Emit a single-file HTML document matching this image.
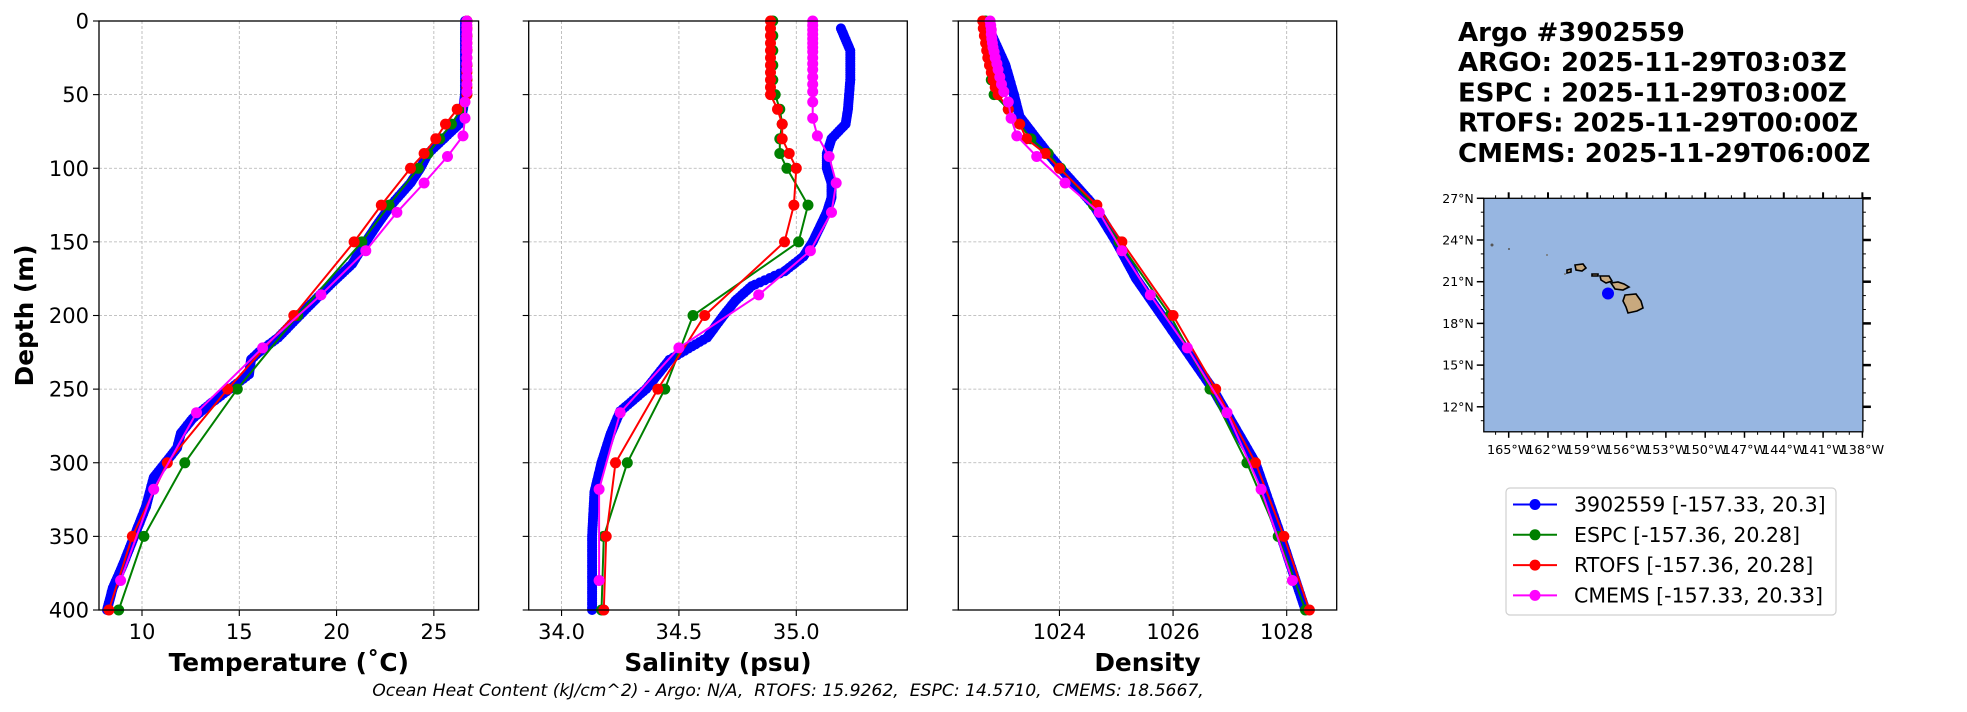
<!DOCTYPE html>
<html><head><meta charset="utf-8"><style>
html,body{margin:0;padding:0;background:#fff;}
svg{display:block;}
text{font-family:"DejaVu Sans","Liberation Sans",sans-serif;}
</style></head><body>
<svg id="s" width="1967" height="712" xmlns="http://www.w3.org/2000/svg"></svg>
<script>
const S=document.getElementById('s');
let h='';
const Y0=21,Y1=610;
const ys=d=>Y0+(Y1-Y0)*d/400;
const panels=[
 {x0:99,x1:478.6,v0:7.79,v1:27.3,ticks:[10,15,20,25],lab:['10','15','20','25'],title:'Temperature (˚C)'},
 {x0:528.7,x1:907.3,v0:33.86,v1:35.473,ticks:[34,34.5,35],lab:['34.0','34.5','35.0'],title:'Salinity (psu)'},
 {x0:958.3,x1:1336.7,v0:1022.22,v1:1028.88,ticks:[1024,1026,1028],lab:['1024','1026','1028'],title:'Density'}
];
const data=[
 {
  b:[[0,26.6],[50,26.6],[60,26.5],[70,26.3],[80,25.5],[90,24.7],[100,24.3],[110,23.8],[125,22.8],[140,22.0],[150,21.5],[165,20.8],[180,19.6],[200,18.1],[215,17.0],[225,16.0],[230,15.6],[240,15.5],[250,14.5],[260,13.5],[270,12.6],[280,12.0],[290,11.8],[300,11.2],[310,10.6],[330,10.2],[350,9.6],[370,9.0],[385,8.5],[400,8.2]],
  g:[[0,26.7],[10,26.7],[20,26.7],[30,26.7],[40,26.7],[50,26.7],[60,26.4],[70,25.9],[80,25.3],[90,24.7],[100,24.2],[125,22.7],[150,21.3],[200,18.0],[250,14.9],[300,12.2],[350,10.1],[400,8.8]],
  r:[[0,26.7],[5,26.7],[10,26.7],[15,26.7],[20,26.7],[25,26.7],[30,26.7],[35,26.7],[40,26.7],[45,26.7],[50,26.7],[60,26.2],[70,25.6],[80,25.1],[90,24.5],[100,23.8],[125,22.3],[150,20.9],[200,17.8],[250,14.4],[300,11.3],[350,9.5],[400,8.3]],
  m:[[0,26.7],[3,26.7],[6,26.7],[9,26.7],[12,26.7],[15,26.7],[18,26.7],[21,26.7],[25,26.7],[29,26.7],[33,26.7],[38,26.7],[43,26.7],[48,26.7],[55,26.6],[66,26.6],[78,26.5],[92,25.7],[110,24.5],[130,23.1],[156,21.5],[186,19.2],[222,16.2],[266,12.8],[318,10.6],[380,8.9]]
 },
 {
  b:[[5,35.19],[20,35.23],[40,35.23],[60,35.22],[70,35.21],[80,35.15],[90,35.13],[100,35.13],[110,35.15],[120,35.15],[130,35.13],[140,35.10],[150,35.07],[160,35.03],[170,34.95],[180,34.81],[190,34.74],[200,34.69],[215,34.62],[230,34.46],[250,34.36],[265,34.25],[280,34.21],[300,34.17],[320,34.14],[350,34.13],[400,34.13]],
  g:[[0,34.9],[10,34.9],[20,34.9],[30,34.9],[40,34.9],[50,34.91],[60,34.93],[70,34.94],[80,34.93],[90,34.93],[100,34.96],[125,35.05],[150,35.01],[200,34.56],[250,34.44],[300,34.28],[350,34.18],[400,34.17]],
  r:[[0,34.89],[5,34.89],[10,34.89],[15,34.89],[20,34.89],[25,34.89],[30,34.89],[35,34.89],[40,34.89],[45,34.89],[50,34.89],[60,34.92],[70,34.94],[80,34.94],[90,34.97],[100,35.0],[125,34.99],[150,34.95],[200,34.61],[250,34.41],[300,34.23],[350,34.19],[400,34.18]],
  m:[[0,35.07],[3,35.07],[6,35.07],[9,35.07],[12,35.07],[15,35.07],[18,35.07],[21,35.07],[25,35.07],[29,35.07],[33,35.07],[38,35.07],[43,35.07],[48,35.07],[55,35.07],[66,35.07],[78,35.09],[92,35.14],[110,35.17],[130,35.15],[156,35.06],[186,34.84],[222,34.50],[266,34.25],[318,34.16],[380,34.16]]
 },
 {
  b:[[0,1022.7],[30,1023.05],[50,1023.2],[65,1023.3],[75,1023.5],[90,1023.8],[100,1024.02],[125,1024.6],[150,1025.0],[175,1025.35],[200,1025.8],[250,1026.7],[300,1027.45],[350,1027.9],[400,1028.33]],
  g:[[0,1022.7],[10,1022.72],[20,1022.75],[30,1022.78],[40,1022.8],[50,1022.85],[60,1023.1],[70,1023.3],[80,1023.5],[90,1023.8],[100,1024.02],[125,1024.6],[150,1025.05],[200,1025.95],[250,1026.65],[300,1027.3],[350,1027.85],[400,1028.33]],
  r:[[0,1022.65],[5,1022.66],[10,1022.68],[15,1022.7],[20,1022.72],[25,1022.74],[30,1022.77],[35,1022.8],[40,1022.83],[45,1022.87],[50,1022.92],[60,1023.1],[70,1023.3],[80,1023.42],[90,1023.75],[100,1024.0],[125,1024.66],[150,1025.1],[200,1026.0],[250,1026.75],[300,1027.45],[350,1027.95],[400,1028.4]],
  m:[[0,1022.78],[3,1022.79],[6,1022.8],[9,1022.8],[12,1022.81],[15,1022.82],[18,1022.83],[21,1022.85],[25,1022.87],[29,1022.9],[33,1022.92],[38,1022.95],[43,1022.98],[48,1023.02],[55,1023.1],[66,1023.15],[78,1023.25],[92,1023.6],[110,1024.1],[130,1024.7],[156,1025.1],[186,1025.6],[222,1026.25],[266,1026.95],[318,1027.55],[380,1028.1]]
 }
];
const col={b:'#0000ff',g:'#008000',r:'#ff0000',m:'#ff00ff'};
function interp(arr,step){const o=[];for(let i=0;i<arr.length-1;i++){const[a,va]=arr[i],[b,vb]=arr[i+1];for(let d=a;d<b;d+=step)o.push([d,va+(vb-va)*(d-a)/(b-a)]);}o.push(arr[arr.length-1]);return o;}
panels.forEach((p,i)=>{
 const xs=v=>p.x0+(p.x1-p.x0)*(v-p.v0)/(p.v1-p.v0);
 h+=`<defs><clipPath id="c${i}"><rect x="${p.x0}" y="${Y0-8}" width="${p.x1-p.x0}" height="${Y1-Y0+16}"/></clipPath></defs>`;
 p.ticks.forEach(t=>{const x=xs(t);h+=`<line x1="${x}" y1="${Y0}" x2="${x}" y2="${Y1}" stroke="#b0b0b0" stroke-width="0.8" stroke-dasharray="3,2"/>`;});
 for(let d=50;d<400;d+=50){h+=`<line x1="${p.x0}" y1="${ys(d)}" x2="${p.x1}" y2="${ys(d)}" stroke="#b0b0b0" stroke-width="0.8" stroke-dasharray="3,2"/>`;}
 let g=`<g clip-path="url(#c${i})">`;
 ['b','g','r','m'].forEach(k=>{
  const arr=data[i][k];
  g+=`<polyline fill="none" stroke="${col[k]}" stroke-width="2" points="${arr.map(q=>xs(q[1]).toFixed(1)+','+ys(q[0]).toFixed(1)).join(' ')}"/>`;
  const pts=k==='b'?interp(arr,1.5):arr;
  pts.forEach(q=>{g+=`<circle cx="${xs(q[1]).toFixed(1)}" cy="${ys(q[0]).toFixed(1)}" r="${k==='b'?5:5.5}" fill="${col[k]}"/>`;});
 });
 h+=g+'</g>';
 h+=`<rect x="${p.x0}" y="${Y0}" width="${p.x1-p.x0}" height="${Y1-Y0}" fill="none" stroke="#000" stroke-width="1.3"/>`;
 p.ticks.forEach((t,j)=>{const x=xs(t);h+=`<line x1="${x}" y1="${Y1}" x2="${x}" y2="${Y1+6}" stroke="#000" stroke-width="1.1"/><text x="${x}" y="${Y1+29}" font-size="21" text-anchor="middle">${p.lab[j]}</text>`;});
 for(let d=0;d<=400;d+=50){h+=`<line x1="${p.x0-6}" y1="${ys(d)}" x2="${p.x0}" y2="${ys(d)}" stroke="#000" stroke-width="1.1"/>`;
  if(i==0)h+=`<text x="${p.x0-10}" y="${ys(d)+7.5}" font-size="21" text-anchor="end">${d}</text>`;}
 h+=`<text x="${(p.x0+p.x1)/2}" y="${Y1+61}" font-size="24.8" font-weight="bold" text-anchor="middle">${p.title}</text>`;
});
h+=`<text transform="translate(33,${(Y0+Y1)/2}) rotate(-90)" font-size="24.8" font-weight="bold" text-anchor="middle">Depth (m)</text>`;
h+=`<text x="788" y="696" font-size="17.2" font-style="italic" text-anchor="middle" xml:space="preserve" style="white-space:pre">Ocean Heat Content (kJ/cm^2) - Argo: N/A,  RTOFS: 15.9262,  ESPC: 14.5710,  CMEMS: 18.5667,</text>`;
['Argo #3902559','ARGO: 2025-11-29T03:03Z','ESPC : 2025-11-29T03:00Z','RTOFS: 2025-11-29T00:00Z','CMEMS: 2025-11-29T06:00Z'].forEach((t,j)=>{
 h+=`<text x="1458" y="${41+j*30.2}" font-size="26" font-weight="bold" xml:space="preserve" style="white-space:pre">${t}</text>`;});
const MX0=1483.8,MX1=1862.9,MY0=198.3,MY1=431.8;
const lx=l=>MX0+(l+166.9)*13.1, ly=a=>MY0+(27-a)*13.9;
h+=`<rect x="${MX0}" y="${MY0}" width="${MX1-MX0}" height="${MY1-MY0}" fill="#97b6e1"/>`;
const isl=[[1633,303,'M-8,-8 L3,-9 L8,-2 L10,5 L4,8 L-5,10 L-7,4 L-10,-2 Z'],[1620,286,'M-9,-3 L-2,-4 L4,-2 L9,1 L3,4 L-5,3 Z'],[1606,279,'M-6,-3 L3,-3 L6,2 L0,4 L-5,1 Z'],[1580,268,'M-5,-3 L3,-4 L6,0 L2,3 L-4,2 Z'],[1569,271,'M-2,-1 L2,-2 L2,1 L-2,2 Z'],[1595,275,'M-3,-1 L3,-1 L3,1 L-3,1 Z']];
isl.forEach(s=>{h+=`<path transform="translate(${s[0]},${s[1]})" d="${s[2]}" fill="#c8a97e" stroke="#000" stroke-width="1.6"/>`;});
h+=`<circle cx="1492" cy="245" r="1.5" fill="#555"/><circle cx="1509" cy="249" r="1" fill="#555"/><circle cx="1547" cy="255" r="1" fill="#777"/><circle cx="1565" cy="274" r="1" fill="#777"/>`;
h+=`<circle cx="1608" cy="293.5" r="6" fill="#0000ff"/>`;
h+=`<rect x="${MX0}" y="${MY0}" width="${MX1-MX0}" height="${MY1-MY0}" fill="none" stroke="#000" stroke-width="1.3"/>`;
[27,24,21,18,15,12].forEach(a=>{const y=ly(a);h+=`<line x1="${MX0-7}" y1="${y}" x2="${MX0}" y2="${y}" stroke="#000" stroke-width="1.5"/><line x1="${MX1}" y1="${y}" x2="${MX1+8}" y2="${y}" stroke="#000" stroke-width="2.5"/><text x="${MX0-10}" y="${y+4.5}" font-size="12.5" text-anchor="end">${a}°N</text>`;});
for(let a=11;a<=27;a++){const y=ly(a);h+=`<line x1="${MX0-3}" y1="${y}" x2="${MX0}" y2="${y}" stroke="#000"/><line x1="${MX1}" y1="${y}" x2="${MX1+3}" y2="${y}" stroke="#000"/>`;}
[165,162,159,156,153,150,147,144,141,138].forEach(l=>{const x=lx(-l);h+=`<line x1="${x}" y1="${MY1}" x2="${x}" y2="${MY1+6}" stroke="#000" stroke-width="1.5"/><line x1="${x}" y1="${MY0-6}" x2="${x}" y2="${MY0}" stroke="#000" stroke-width="2"/><text x="${x}" y="${MY1+22}" font-size="12.8" text-anchor="middle">${l}°W</text>`;});
for(let l=166;l>=138;l--){const x=lx(-l);h+=`<line x1="${x}" y1="${MY1}" x2="${x}" y2="${MY1+3}" stroke="#000"/><line x1="${x}" y1="${MY0-3}" x2="${x}" y2="${MY0}" stroke="#000"/>`;}
h+=`<rect x="1506" y="488" width="330" height="127" rx="4" fill="#fff" stroke="#d0d0d0" stroke-width="1.2"/>`;
[['b','3902559 [-157.33, 20.3]'],['g','ESPC [-157.36, 20.28]'],['r','RTOFS [-157.36, 20.28]'],['m','CMEMS [-157.33, 20.33]']].forEach((e,j)=>{
 const y=504.5+j*30.3;
 h+=`<line x1="1513" y1="${y}" x2="1557" y2="${y}" stroke="${col[e[0]]}" stroke-width="2"/><circle cx="1535" cy="${y}" r="5.5" fill="${col[e[0]]}"/><text x="1574" y="${y+7}" font-size="20.5">${e[1]}</text>`;});
S.innerHTML=h;
</script>
</body></html>
